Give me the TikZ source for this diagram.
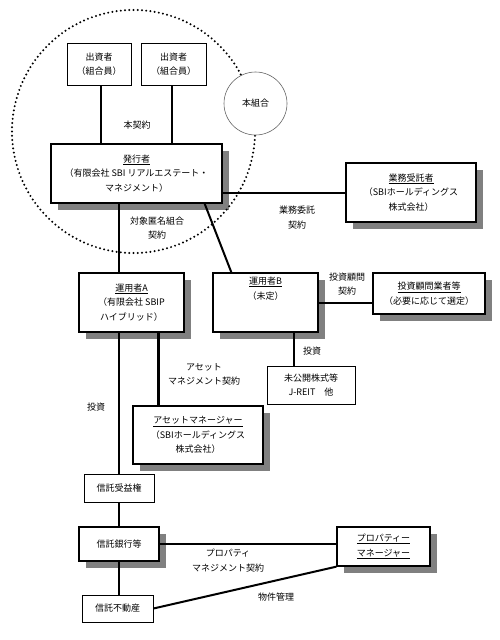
\documentclass[tikz,border=0pt]{standalone}
\usepackage{fontspec}
\setmainfont{Noto Sans CJK JP}

\tikzset{
  letra/.style={font=\fontsize{9}{14.5}\selectfont},
  caja/.style={draw, line width=1.3pt, fill=white, inner sep=0pt, align=center, letra},
  cajita/.style={draw, line width=0.9pt, fill=white, inner sep=0pt, align=center, letra},
  etiqueta/.style={inner sep=0pt, align=center, letra},
  sombra/.style={fill=black!50},
  enlace/.style={line width=2pt},
  grueso/.style={line width=2.6pt},
}

\begin{document}
\begin{tikzpicture}[x=1pt, y=-1pt]
  \useasboundingbox (0,0) rectangle (500,640);
  % sombras
  \fill[sombra] (58,151) rectangle (229,210);
  \fill[sombra] (353,170) rectangle (483,229);
  \fill[sombra] (86,280) rectangle (191,339);
  \fill[sombra] (220,280) rectangle (325,339);
  \fill[sombra] (380,280) rectangle (492,321);
  \fill[sombra] (140,413) rectangle (270,471);
  \fill[sombra] (86,534) rectangle (166,568);
  \fill[sombra] (344,534) rectangle (437,573);
  % el circulo del contrato, punto a punto
  \coordinate (centro) at (133.5,131.5);
  \foreach \a in {0,2,...,358}
    \fill (centro) ++(\a:121.5pt) circle[radius=1.1pt];
  \node[circle, draw=black!60, line width=0.6pt, fill=white, minimum size=63pt, inner sep=0pt, letra] (kumiai) at (255.5,103.5) {本組合};
  % parte superior
  \node[cajita, minimum width=64pt, minimum height=42pt] (inv1) at (99,64) {出資者\\（組合員）};
  \node[cajita, minimum width=65pt, minimum height=42pt] (inv2) at (173.5,64) {出資者\\（組合員）};
  \node[caja, minimum width=171pt, minimum height=59pt] (emisor) at (136.5,173.5)
    {\underline{発行者}\\（有限会社 SBI リアルエステート・\\マネジメント）};
  \node[caja, minimum width=130pt, minimum height=59pt] (gestor) at (411,192.5)
    {\underline{業務受託者}\\（SBIホールディングス\\株式会社）};
  % operadores
  \node[caja, minimum width=105pt, minimum height=59pt] (opA) at (131.5,302.5)
    {\underline{運用者A}\\（有限会社 SBIP\\ハイブリッド）};
  \node[caja, minimum width=105pt, minimum height=59pt] (opB) at (265.5,302.5)
    {\underline{運用者B}\\（未定）\\[14.5pt]};
  \node[caja, minimum width=112pt, minimum height=41pt] (asesor) at (429,293.5)
    {\underline{投資顧問業者等}\\（必要に応じて選定）};
  \node[cajita, minimum width=88pt, minimum height=38pt] (privado) at (311,385)
    {未公開株式等\\J-REIT　他};
  \node[caja, minimum width=130pt, minimum height=58pt] (am) at (198,435)
    {\underline{アセットマネージャー}\\（SBIホールディングス\\株式会社）};
  % fideicomiso
  \node[cajita, minimum width=70pt, minimum height=28pt] (benef) at (119,488) {信託受益権};
  \node[caja, minimum width=80pt, minimum height=34pt] (banco) at (119,544) {信託銀行等};
  \node[caja, minimum width=93pt, minimum height=39pt] (pm) at (383.5,546.5)
    {\underline{プロパティー}\\\underline{マネージャー}};
  \node[cajita, minimum width=71pt, minimum height=27pt] (inmueble) at (117.5,608.5) {信託不動産};
  % conexiones
  \draw[grueso] ([xshift=2pt]inv1.south) -- ([xshift=2pt]inv1.south |- emisor.north);
  \draw[grueso] ([xshift=-1.5pt]inv2.south) -- ([xshift=-1.5pt]inv2.south |- emisor.north);
  \draw[grueso] (benef.north |- emisor.south) -- (benef.north |- opA.north);
  \draw[enlace] ([xshift=-18pt]emisor.south east) -- ([xshift=19pt]opB.north west);
  \draw[enlace] (gestor.west) -- (gestor.west -| emisor.east);
  \draw[enlace] (opB.east) -- (opB.east -| asesor.west);
  \draw[grueso] ([xshift=-17pt]privado.north) -- ([xshift=-17pt]privado.north |- opB.south);
  \draw[grueso] ([xshift=26pt]am.north west) -- ([xshift=26pt]am.north west |- opA.south);
  \draw[grueso] (benef.north |- opA.south) -- (benef.north);
  \draw[grueso] (benef.south) -- (banco.north);
  \draw[grueso] (banco.south) -- (banco.south |- inmueble.north);
  \draw[enlace] (banco.east) -- (banco.east -| pm.west);
  \draw[enlace] (inmueble.east) -- (pm.south west);
  % etiquetas
  \node[etiqueta] (l1) at (137,125) {本契約};
  \node[etiqueta] (l2) at (157,228) {対象匿名組合\\契約};
  \node[etiqueta] (l3) at (297,217.5) {業務委託\\契約};
  \node[etiqueta] (l4) at (347,284) {投資顧問\\契約};
  \node[etiqueta] (l5) at (312,351) {投資};
  \node[etiqueta] (l6) at (204,374.5) {アセット\\マネジメント契約};
  \node[etiqueta] (l7) at (96,407) {投資};
  \node[etiqueta] (l8) at (228,560.5) {プロパティ\\マネジメント契約};
  \node[etiqueta] (l9) at (276,597) {物件管理};
\end{tikzpicture}
\end{document}
